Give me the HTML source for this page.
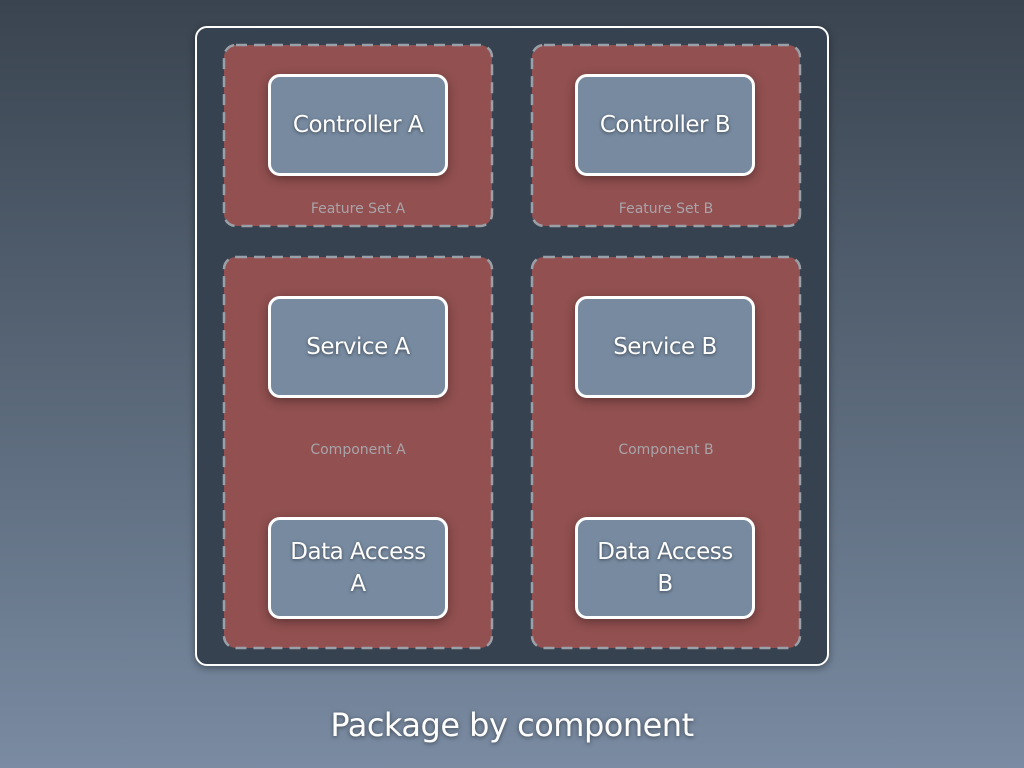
<!DOCTYPE html>
<html><head><style>
body{margin:0;width:1024px;height:768px;overflow:hidden;background:linear-gradient(#3a4450,#5f6e80 60%,#7a8ba2);font-family:"DejaVu Sans","Liberation Sans",sans-serif;position:relative}
.outer{position:absolute;left:195px;top:26px;width:630px;height:636px;border:2px solid #fff;border-radius:12px;background:#374250;box-shadow:0 2px 8px rgba(0,0,0,.4)}
svg{position:absolute;left:0;top:0}
.lbl{position:absolute;width:270px;text-align:center;color:#a8a4aa;font-size:14px}
.node{position:absolute;width:180px;height:102px;box-sizing:border-box;border:3px solid #fff;border-radius:12px;background:#778aa0;color:#fff;font-size:23px;letter-spacing:-0.5px;display:flex;align-items:center;justify-content:center;text-align:center;line-height:32px;text-shadow:0 1px 3px rgba(0,0,0,.5);box-shadow:0 3px 10px rgba(0,0,0,.35)}
.title{position:absolute;top:706px;width:100%;text-align:center;color:#fff;font-size:32px;letter-spacing:-0.5px;text-shadow:0 1px 4px rgba(0,0,0,.5)}
</style></head><body>
<div class="outer"></div>
<svg width="1024" height="768">
<g fill="#925050" stroke="#9aa0a8" stroke-width="2.5" stroke-dasharray="11,7">
<rect x="224" y="45" width="268" height="181" rx="12"/>
<rect x="532" y="45" width="268" height="181" rx="12"/>
<rect x="224" y="257" width="268" height="391" rx="12"/>
<rect x="532" y="257" width="268" height="391" rx="12"/>
</g></svg>
<div class="lbl" style="left:223px;top:201px">Feature Set A</div>
<div class="lbl" style="left:531px;top:201px">Feature Set B</div>
<div class="lbl" style="left:223px;top:442px">Component A</div>
<div class="lbl" style="left:531px;top:442px">Component B</div>
<div class="node" style="left:268px;top:74px">Controller A</div>
<div class="node" style="left:575px;top:74px">Controller B</div>
<div class="node" style="left:268px;top:296px">Service A</div>
<div class="node" style="left:575px;top:296px">Service B</div>
<div class="node" style="left:268px;top:517px">Data Access<br>A</div>
<div class="node" style="left:575px;top:517px">Data Access<br>B</div>
<div class="title">Package by component</div>
</body></html>
